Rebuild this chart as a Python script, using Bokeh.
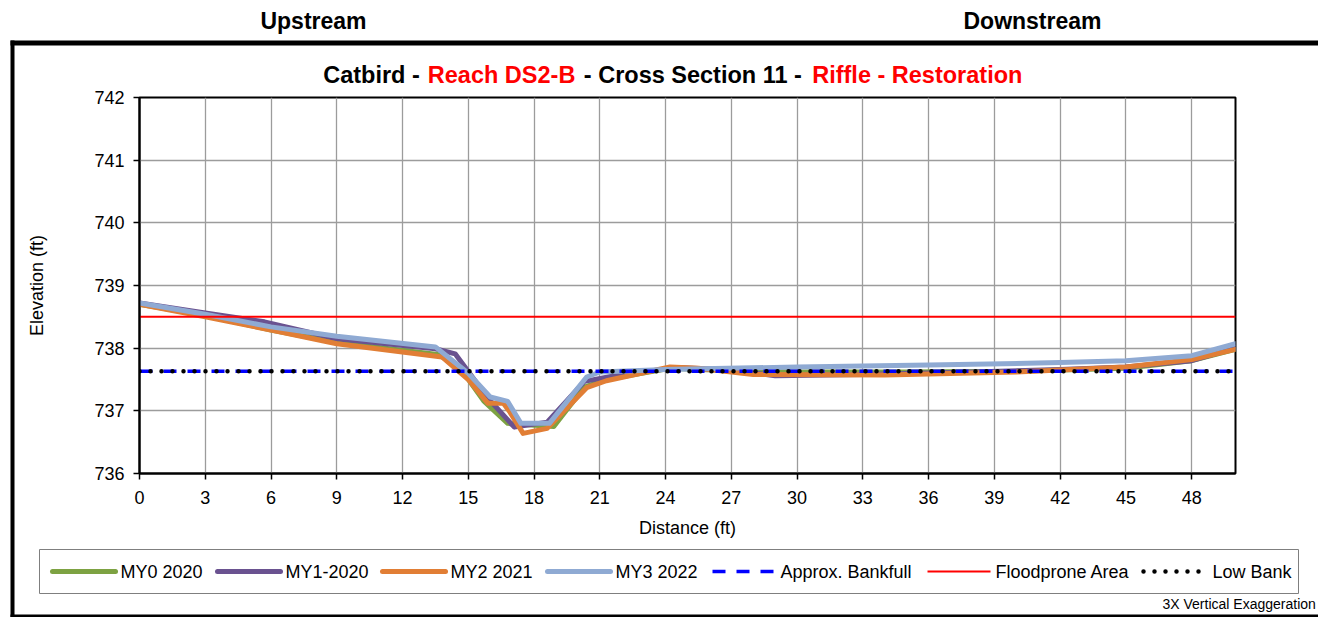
from bokeh.plotting import figure
from bokeh.models import FixedTicker, Range1d
from bokeh.core.properties import value
from bokeh.embed import file_html
from bokeh.resources import INLINE

FONT = "Liberation Sans"

# ---- data ----
x_ticks = [0, 3, 6, 9, 12, 15, 18, 21, 24, 27, 30, 33, 36, 39, 42, 45, 48]
y_ticks = [736, 737, 738, 739, 740, 741, 742]

my0_x = [0, 3, 6, 9, 13.6, 14.6, 15.7, 16.8, 18.9, 20.3, 21.3, 24.2, 27, 30, 35, 40, 45, 48, 50]
my0_y = [738.70, 738.52, 738.29, 738.09, 737.90, 737.70, 737.16, 736.80, 736.75, 737.38, 737.50,
         737.68, 737.64, 737.62, 737.62, 737.63, 737.68, 737.80, 737.98]

my1_x = [0, 3, 5.7, 9, 13.5, 14.4, 15.9, 17.1, 18.6, 20.3, 21.5, 24.5, 27, 29, 33, 38, 42, 45, 48, 50]
my1_y = [738.72, 738.56, 738.42, 738.15, 737.99, 737.91, 737.20, 736.74, 736.82, 737.47, 737.55,
         737.69, 737.65, 737.56, 737.58, 737.62, 737.66, 737.70, 737.80, 738.00]

my2_x = [0, 3, 6, 9, 13.8, 15.0, 15.9, 16.6, 16.9, 17.5, 18.6, 20.4, 21.3, 24.2, 25.5, 28, 34, 40, 45, 48, 50]
my2_y = [738.70, 738.50, 738.29, 738.07, 737.86, 737.50, 737.12, 737.12, 736.98, 736.64, 736.72,
         737.37, 737.48, 737.70, 737.68, 737.58, 737.57, 737.62, 737.70, 737.82, 737.98]

my3_x = [0, 3, 6, 9, 13.5, 15.0, 16.0, 16.8, 17.4, 18.7, 20.4, 21.0, 24, 30, 36, 42, 45, 48, 50]
my3_y = [738.72, 738.54, 738.34, 738.19, 738.02, 737.60, 737.22, 737.15, 736.80, 736.80, 737.54,
         737.62, 737.66, 737.70, 737.73, 737.77, 737.80, 737.88, 738.07]

bankfull_x = [0, 50]
bankfull_y = [737.63, 737.63]
floodprone_x = [0, 50]
floodprone_y = [738.50, 738.50]
lowbank_x = [0, 50]
lowbank_y = [737.63, 737.63]

series_names = ["MY0 2020", "MY1-2020", "MY2 2021", "MY3 2022",
                "Approx. Bankfull", "Floodprone Area", "Low Bank"]

# ---- figure ----
W, H = 1318, 617
FL, FR, FT, FB = 139, 1235, 97, 473   # frame edges (px)
X0, X1, Y0, Y1 = 0, 50, 736, 742

p = figure(width=W, height=H, output_backend="svg", toolbar_location=None, title=None,
           x_range=Range1d(X0, X1), y_range=Range1d(Y0, Y1),
           min_border_left=FL, min_border_right=W - FR, min_border_top=FT,
           min_border_bottom=H - FB,
           background_fill_color="white", border_fill_color="white")

p.outline_line_color = "black"
p.outline_line_width = 2

for ax in (p.xaxis[0], p.yaxis[0]):
    ax.axis_line_color = "black"
    ax.axis_line_width = 2
    ax.major_tick_line_color = "black"
    ax.major_tick_line_width = 1.5
    ax.major_tick_in = 0
    ax.major_tick_out = 6
    ax.minor_tick_line_color = None
    ax.major_label_text_font = FONT
    ax.major_label_text_font_size = "18px"
    ax.major_label_text_color = "black"
    ax.axis_label_text_font = FONT
    ax.axis_label_text_font_size = "18px"
    ax.axis_label_text_font_style = "normal"
    ax.axis_label_text_color = "black"

p.xaxis.ticker = FixedTicker(ticks=x_ticks)
p.yaxis.ticker = FixedTicker(ticks=y_ticks)
p.xaxis.axis_label = "Distance (ft)"
p.yaxis.axis_label = "Elevation (ft)"
p.xaxis.major_label_standoff = 11
p.xaxis.axis_label_standoff = 11
p.yaxis.major_label_standoff = 9
p.yaxis.axis_label_standoff = 44

p.xgrid.grid_line_color = "#9c9c9c"
p.ygrid.grid_line_color = "#9c9c9c"
p.xgrid.grid_line_width = 1.3
p.ygrid.grid_line_width = 1.3

colors = ["#7DA242", "#6A5290", "#E17E35", "#8FAAD3"]
styles = [dict(line_color=c, line_width=5, line_cap="round", line_join="round") for c in colors]
styles.append(dict(line_color="#0000FF", line_width=3.5, line_dash="13 11"))
styles.append(dict(line_color="#FF0000", line_width=2))
styles.append(dict(line_color="black", line_width=4.5, line_dash="0 11", line_cap="round"))

series = [(my0_x, my0_y), (my1_x, my1_y), (my2_x, my2_y), (my3_x, my3_y),
          (bankfull_x, bankfull_y), (floodprone_x, floodprone_y), (lowbank_x, lowbank_y)]
for (xs, ys), st in zip(series, styles):
    p.line(xs, ys, **st)


# ---- decorations placed by page pixel, converted into the plot's data space ----
def dx(px):
    return X0 + (px - FL) / (FR - FL) * (X1 - X0)


def dy(py):
    return Y1 - (py - FT) / (FB - FT) * (Y1 - Y0)


def txt(px, py, text, size, bold=False, color="black", align="left"):
    p.text(x=[dx(px)], y=[dy(py)], text=[text], text_font=value(FONT),
           text_font_size=value(size), text_font_style="bold" if bold else "normal",
           text_color=color, text_align=align, text_baseline="middle", level="overlay")


txt(313, 20, "Upstream", "23px", bold=True, align="center")
txt(1032, 20, "Downstream", "23px", bold=True, align="center")
txt(322.7, 74, "Catbird -", "23.5px", bold=True)
txt(427.3, 74, "Reach DS2-B", "23.5px", bold=True, color="#FF0000")
txt(583.3, 74, "- Cross Section 11 -", "23.5px", bold=True)
txt(811.7, 74, "Riffle - Restoration", "23.5px", bold=True, color="#FF0000")
txt(1162, 603, "3X Vertical Exaggeration", "14px")

# outer border bars: top, left, bottom
for l, r, t, b in [(10, 1330, 40, 45), (10, 14, 40, 630), (10, 1330, 614, 630)]:
    p.quad(left=[dx(l)], right=[dx(r)], top=[dy(t)], bottom=[dy(b)],
           fill_color="black", line_color=None, level="overlay")

# legend box with one entry per series (same styles as the plotted lines)
p.quad(left=[dx(39)], right=[dx(1298)], top=[dy(549)], bottom=[dy(593)],
       fill_color="white", line_color="#7f7f7f", line_width=1, level="overlay")
legend_starts = [52, 217, 382, 547, 712, 927, 1141]
LEG_Y = 571
for name, st, sx in zip(series_names, styles, legend_starts):
    x_end = sx + (58 if name == "Low Bank" else 63)
    p.line([dx(sx + 2 if name == "Low Bank" else sx), dx(x_end)], [dy(LEG_Y), dy(LEG_Y)],
           level="overlay", **st)
    txt(sx + 68 + (3 if name == "Low Bank" else 0), LEG_Y, name, "18px")

open("out.html", "w").write(file_html(p, INLINE))
